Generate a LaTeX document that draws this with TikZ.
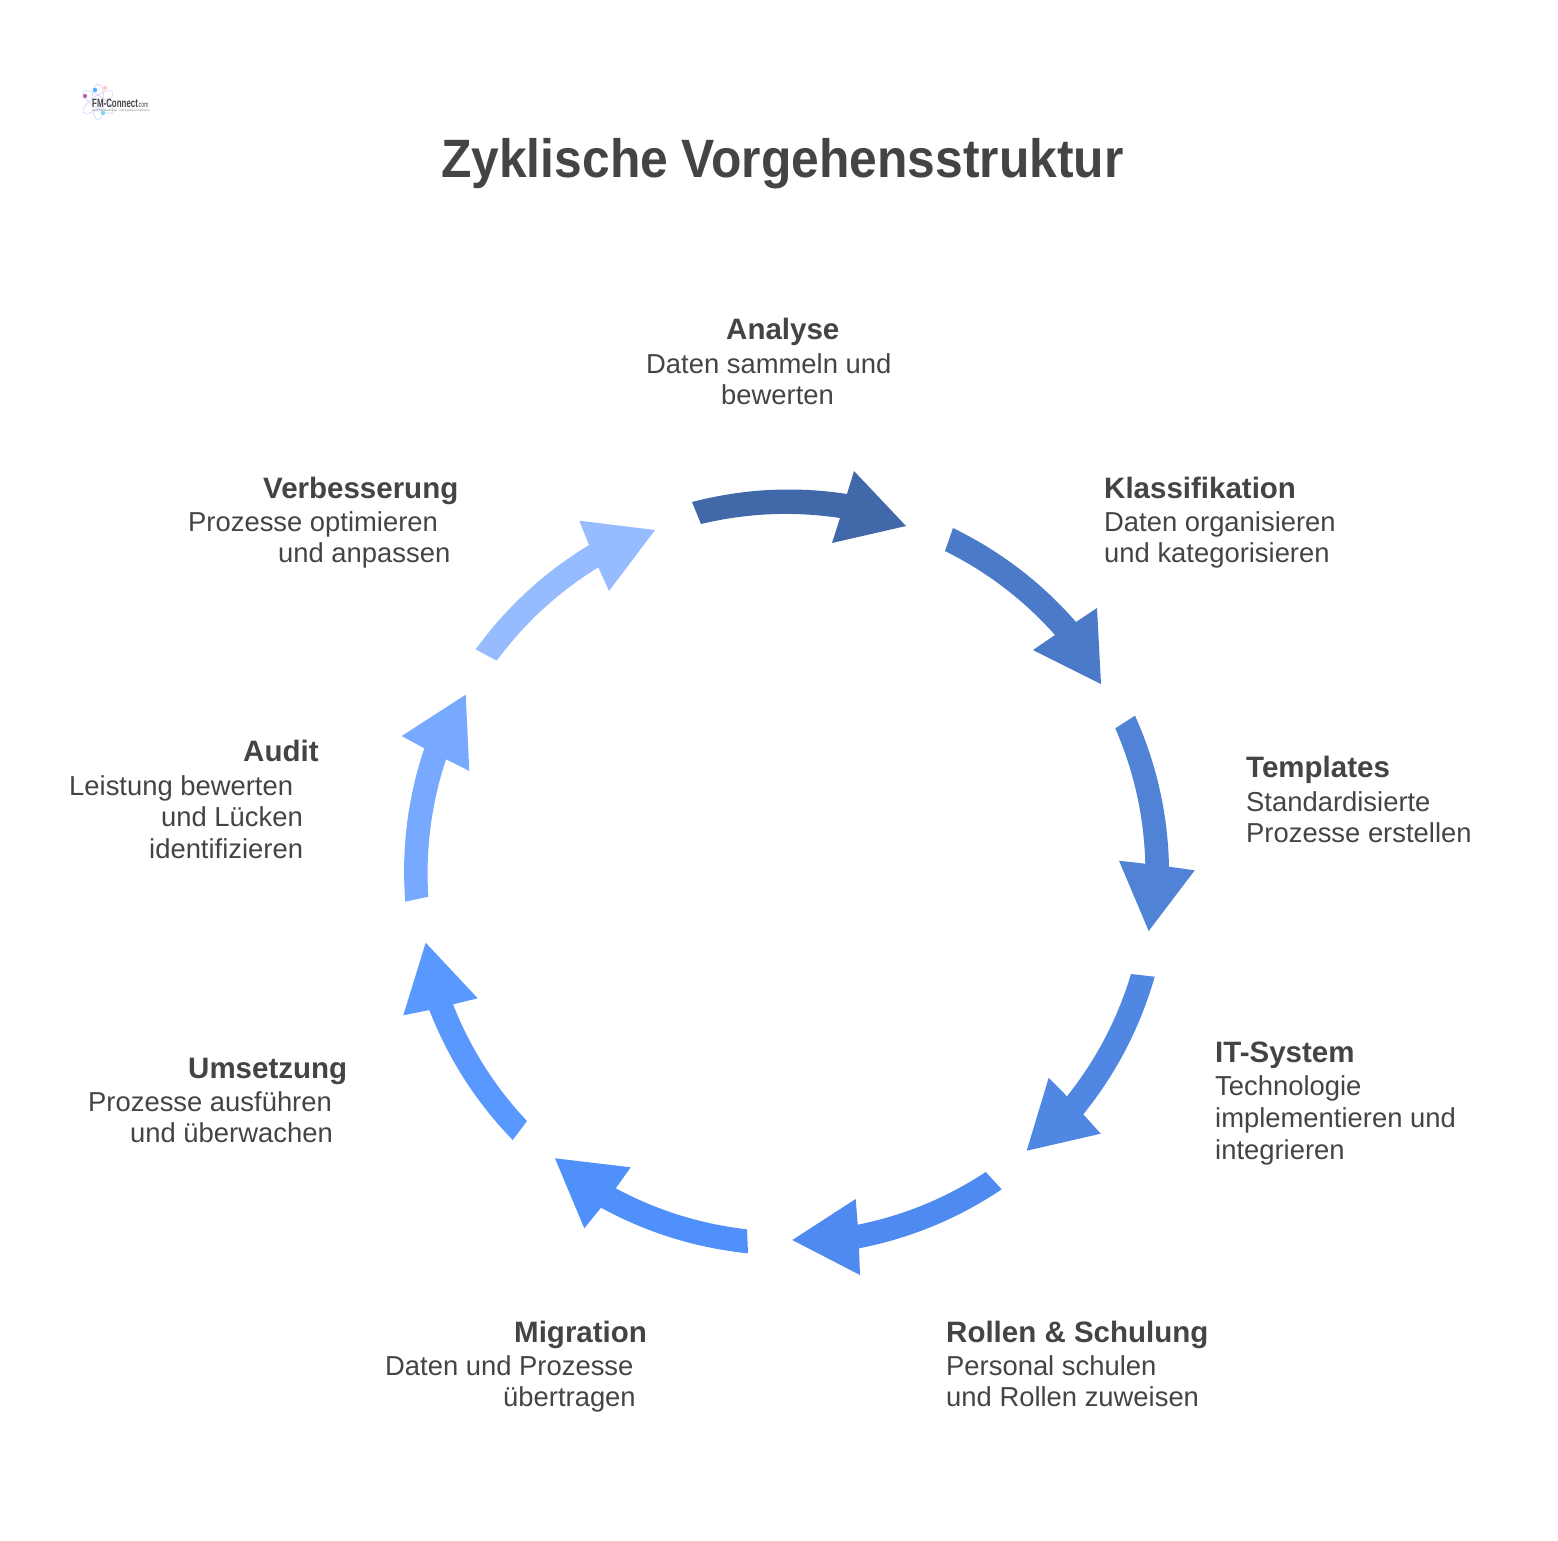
\documentclass[tikz,border=0pt]{standalone}
\usepackage{fontspec}
\usetikzlibrary{calc}
\setmainfont{Liberation Sans}
\newfontfamily\titlefont[FakeStretch=0.922]{Liberation Sans}
\newfontfamily\logofont[FakeStretch=0.66]{Liberation Sans}
\definecolor{ink}{HTML}{444444}
\definecolor{aone}{HTML}{4169AA}
\definecolor{atwo}{HTML}{4B7AC8}
\definecolor{athree}{HTML}{5082D5}
\definecolor{afour}{HTML}{4F87E3}
\definecolor{afive}{HTML}{4E8AEF}
\definecolor{asix}{HTML}{4F90FA}
\definecolor{aseven}{HTML}{5898FF}
\definecolor{aeight}{HTML}{77A9FF}
\definecolor{anine}{HTML}{96BCFF}
\tikzset{
  titletext/.style={anchor=base west,inner sep=0pt,text=ink,font=\titlefont\bfseries\fontsize{54}{54}\selectfont},
  headtext/.style={anchor=base west,inner sep=0pt,text=ink,font=\bfseries\fontsize{29.5}{30}\selectfont},
  bodytext/.style={anchor=base west,inner sep=0pt,text=ink,font=\fontsize{27.4}{30}\selectfont},
  logotext/.style={anchor=base west,inner sep=0pt,text=ink},
  orbit/.style={draw=blue!18,line width=.6pt},
}
\begin{document}
\begin{tikzpicture}[x=1pt,y=-1pt]
\useasboundingbox (0,0) rectangle (1558,1540);
\fill[white] (0,0) rectangle (1558,1540);
% logo
\draw[orbit,rotate around={35:(98,102)}] (98,102) ellipse [x radius=18pt,y radius=6pt];
\draw[orbit,rotate around={-35:(98,102)}] (98,102) ellipse [x radius=18pt,y radius=6pt];
\draw[orbit] (98,102) ellipse [x radius=6pt,y radius=18pt];
\fill[violet!60] (85,96) circle [radius=2.2pt];
\fill[blue!45!cyan!70] (95,90) circle [radius=2.2pt];
\fill[pink!80] (105,88) circle [radius=2.2pt];
\fill[cyan!50] (103,113) circle [radius=2.2pt];
\node[logotext,font=\logofont\bfseries\fontsize{12}{12}\selectfont] (logoname) at (92,107) {FM-Connect};
\node[logotext,font=\logofont\fontsize{8}{8}\selectfont] (logocom) at (137,107) {.com};
\node[logotext,text=gray,font=\fontsize{2.9}{3}\selectfont] (logosub) at (93,111) {Das FM Beratungs- und Ingenieur Netzwerk};
% title
\node[titletext] (title) at (441,177.5) {Zyklische Vorgehensstruktur};
% arrows
\fill[aone] (692,502) .. controls ($(692,502)!.667!(769,482)$) and ($(847,494)!.667!(769,482)$) .. (847,494) -- (854,471) -- (906,526) -- (832,543) -- (840,518) .. controls ($(840,518)!.667!(770,507.5)$) and ($(701,524)!.667!(770,507.5)$) .. (701,524) -- cycle;
\fill[atwo] (953,528) .. controls ($(953,528)!.667!(1024,562.6)$) and ($(1076,622)!.667!(1024,562.6)$) .. (1076,622) -- (1097,608) -- (1101,684) -- (1033,650) -- (1055,635) .. controls ($(1055,635)!.667!(1008.2,582.4)$) and ($(945,551)!.667!(1008.2,582.4)$) .. (945,551) -- cycle;
\fill[athree] (1135,715.7) .. controls ($(1135,715.7)!.667!(1167.4,787.7)$) and ($(1169,866.7)!.667!(1167.4,787.7)$) .. (1169,866.7) -- (1194.7,870.3) -- (1148.7,931) -- (1119,860.7) -- (1145.3,863.7) .. controls ($(1145.3,863.7)!.667!(1143.4,793.2)$) and ($(1115.3,728.3)!.667!(1143.4,793.2)$) .. (1115.3,728.3) -- cycle;
\fill[afour] (1154.7,976.7) .. controls ($(1154.7,976.7)!.667!(1132.9,1052.8)$) and ($(1083.3,1114.3)!.667!(1132.9,1052.8)$) .. (1083.3,1114.3) -- (1100.7,1133.7) -- (1026.7,1150.7) -- (1048.7,1077.7) -- (1067,1096.3) .. controls ($(1067,1096.3)!.667!(1110.8,1041.2)$) and ($(1131,974)!.667!(1110.8,1041.2)$) .. (1131,974) -- cycle;
\fill[afive] (1001.7,1189.3) .. controls ($(1001.7,1189.3)!.667!(936.3,1233.2)$) and ($(859,1248.3)!.667!(936.3,1233.2)$) .. (859,1248.3) -- (860,1275) -- (792.3,1240) -- (855.7,1199) -- (857.7,1224.7) .. controls ($(857.7,1224.7)!.667!(926.8,1210.8)$) and ($(985.7,1172)!.667!(926.8,1210.8)$) .. (985.7,1172) -- cycle;
\fill[asix] (748,1253.3) .. controls ($(748,1253.3)!.667!(670,1245.3)$) and ($(601,1207.7)!.667!(670,1245.3)$) .. (601,1207.7) -- (584.3,1228.3) -- (555,1158.3) -- (630.7,1167.3) -- (615.7,1188.3) .. controls ($(615.7,1188.3)!.667!(677.5,1221.4)$) and ($(747,1229.3)!.667!(677.5,1221.4)$) .. (747,1229.3) -- cycle;
\fill[aseven] (512.7,1140) .. controls ($(512.7,1140)!.667!(457.9,1083.5)$) and ($(429.3,1010)!.667!(457.9,1083.5)$) .. (429.3,1010) -- (403.3,1015.3) -- (425.7,942.7) -- (477.7,998.3) -- (453,1004.3) .. controls ($(453,1004.3)!.667!(478.9,1070)$) and ($(527,1121)!.667!(478.9,1070)$) .. (527,1121) -- cycle;
\fill[aeight] (405.3,901.7) .. controls ($(405.3,901.7)!.667!(399.2,823.1)$) and ($(424.3,748.3)!.667!(399.2,823.1)$) .. (424.3,748.3) -- (401.7,736) -- (465.7,694.7) -- (469.3,771) -- (446,759.3) .. controls ($(446,759.3)!.667!(423.9,826.4)$) and ($(428.3,896.7)!.667!(423.9,826.4)$) .. (428.3,896.7) -- cycle;
\fill[anine] (475.7,649.3) .. controls ($(475.7,649.3)!.667!(521.9,585.8)$) and ($(589,545)!.667!(521.9,585.8)$) .. (589,545) -- (579.3,520.7) -- (655,530) -- (609,591) -- (598.3,567.3) .. controls ($(598.3,567.3)!.667!(538.5,604.2)$) and ($(496.7,660.7)!.667!(538.5,604.2)$) .. (496.7,660.7) -- cycle;
% labels
\node[headtext] (h1) at (726,339) {Analyse};
\node[bodytext] (b1a) at (646,373) {Daten sammeln und};
\node[bodytext] (b1b) at (721,404) {bewerten};
\node[headtext] (h2) at (1104,498) {Klassifikation};
\node[bodytext] (b2a) at (1104,531) {Daten organisieren};
\node[bodytext] (b2b) at (1104,562) {und kategorisieren};
\node[headtext] (h3) at (1246,777) {Templates};
\node[bodytext] (b3a) at (1246,811) {Standardisierte};
\node[bodytext] (b3b) at (1246,842) {Prozesse erstellen};
\node[headtext] (h4) at (1215,1062) {IT-System};
\node[bodytext] (b4a) at (1215,1095) {Technologie};
\node[bodytext] (b4b) at (1215,1127) {implementieren und};
\node[bodytext] (b4c) at (1215,1159) {integrieren};
\node[headtext] (h5) at (946,1342) {Rollen \& Schulung};
\node[bodytext] (b5a) at (946,1375) {Personal schulen};
\node[bodytext] (b5b) at (946,1406) {und Rollen zuweisen};
\node[headtext] (h6) at (514,1342) {Migration};
\node[bodytext] (b6a) at (385,1375) {Daten und Prozesse};
\node[bodytext] (b6b) at (503,1406) {übertragen};
\node[headtext] (h7) at (188,1078) {Umsetzung};
\node[bodytext] (b7a) at (88,1111) {Prozesse ausführen};
\node[bodytext] (b7b) at (130,1142) {und überwachen};
\node[headtext] (h8) at (243,761) {Audit};
\node[bodytext] (b8a) at (69,795) {Leistung bewerten};
\node[bodytext] (b8b) at (161,826) {und Lücken};
\node[bodytext] (b8c) at (149,858) {identifizieren};
\node[headtext] (h9) at (263,498) {Verbesserung};
\node[bodytext] (b9a) at (188,531) {Prozesse optimieren};
\node[bodytext] (b9b) at (278,562) {und anpassen};
\end{tikzpicture}
\end{document}
